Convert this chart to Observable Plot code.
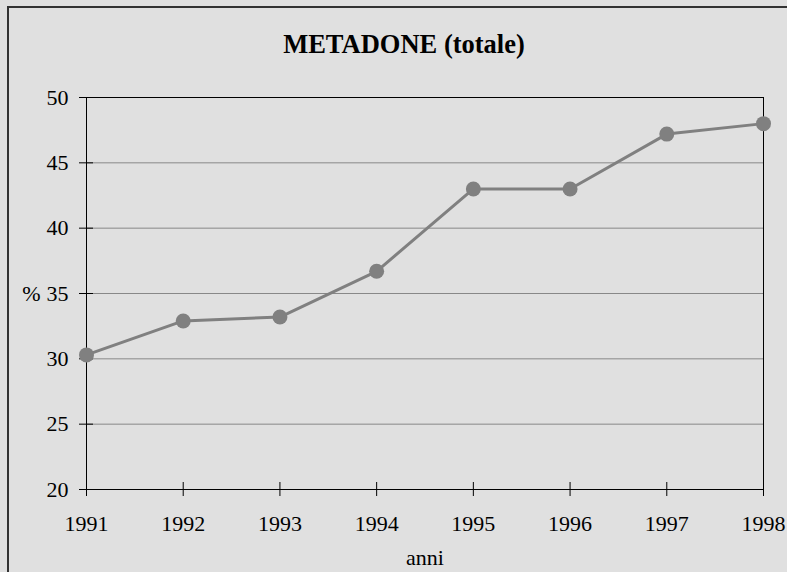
<!DOCTYPE html>
<html>
<head>
<meta charset="utf-8">
<script src="https://cdn.jsdelivr.net/npm/d3@7"></script>
<script src="https://cdn.jsdelivr.net/npm/@observablehq/plot@0.6"></script>
<style>
  html, body { margin: 0; padding: 0; background: #e0e0e0; }
  #wrap { position: relative; width: 787px; height: 572px; overflow: hidden; background: #e0e0e0; }
  #border { position: absolute; left: 7px; top: 6px; width: 820px; height: 620px; border: 2px solid #333; box-sizing: border-box; pointer-events: none; }
  #chart { position: absolute; left: 0; top: 0; }
</style>
</head>
<body>
<div id="wrap">
  <div id="chart"></div>
  <div id="border"></div>
</div>
<script>
const years = [1991, 1992, 1993, 1994, 1995, 1996, 1997, 1998];
const values = [30.3, 32.9, 33.2, 36.7, 43.0, 43.0, 47.2, 48.0];
const yTicks = [20, 25, 30, 35, 40, 45, 50];
const title = "METADONE (totale)";
const yLabel = "%";
const xLabel = "anni";

const data = years.map((y, i) => ({year: y, value: values[i]}));
const grey = "#808080";
const serif = "Liberation Serif";

const chart = Plot.plot({
  width: 787,
  height: 572,
  marginLeft: 86,
  marginRight: 24,
  marginTop: 97,
  marginBottom: 83,
  style: {background: "#e0e0e0", color: "#000", fontFamily: serif},
  x: {domain: [1991, 1998], ticks: years, tickFormat: "d", label: null},
  y: {domain: [20, 50], ticks: yTicks, label: null},
  marks: [
    Plot.ruleY(yTicks.filter(d => d > 20 && d < 50), {stroke: "#888", strokeWidth: 1}),
    Plot.frame({stroke: "#000", strokeWidth: 1}),
    Plot.axisY({ticks: yTicks, tickSize: 14, dx: 7, tickFormat: () => "", label: null, stroke: "#000"}),
    Plot.axisX({ticks: years, tickSize: 14, dy: -7, tickFormat: () => "", label: null, stroke: "#000"}),
    Plot.axisY({ticks: yTicks, tickSize: 0, tickPadding: 18, label: null, fontSize: 22, fontFamily: serif, fill: "#000"}),
    Plot.axisX({ticks: years, tickSize: 0, tickPadding: 26, tickFormat: "d", label: null, fontSize: 22, fontFamily: serif, fill: "#000"}),
    Plot.line(data, {x: "year", y: "value", stroke: grey, strokeWidth: 3}),
    Plot.dot(data, {x: "year", y: "value", fill: grey, r: 7.5}),
    Plot.text([yLabel], {frameAnchor: "left", textAnchor: "middle", dx: -55, fontSize: 22, fontFamily: serif, fill: "#000"}),
    Plot.text([xLabel], {frameAnchor: "bottom", lineAnchor: "middle", dy: 68, fontSize: 22, fontFamily: serif, fill: "#000"}),
    Plot.text([title], {frameAnchor: "top", lineAnchor: "middle", dx: -21, dy: -53, fontSize: 26.5, fontFamily: serif, fontWeight: "bold", fill: "#000"})
  ]
});
document.getElementById("chart").appendChild(chart);
</script>
</body>
</html>
